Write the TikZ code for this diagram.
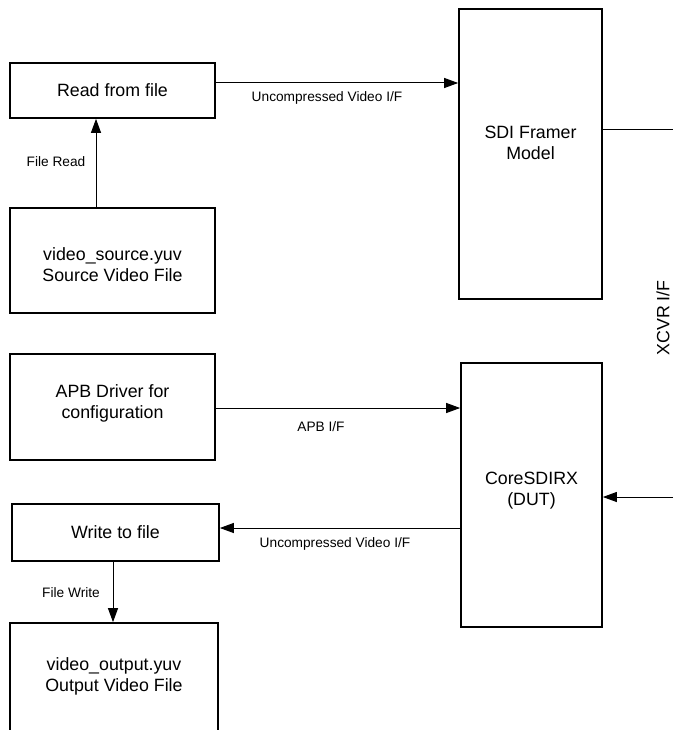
\documentclass[tikz,border=0pt]{standalone}
\usepackage{fontspec}
\setmainfont{Liberation Sans}
\usetikzlibrary{arrows.meta}
\tikzset{
  blk/.style={draw, line width=1.7pt, inner sep=0pt, align=center,
    font=\fontsize{17.8}{21}\selectfont},
  txt/.style={inner sep=0pt, align=center, font=\fontsize{17.8}{21}\selectfont},
  lbl/.style={inner sep=0pt, font=\fontsize{13.7}{16}\selectfont},
  conn/.style={line width=1pt},
  arr/.style={conn, -{Triangle[length=14pt,width=10pt]}}
}
\begin{document}
\begin{tikzpicture}[x=1pt,y=-1pt]
\useasboundingbox (0,0) rectangle (673,730);
\clip (0,0) rectangle (673,730);
\node[blk, minimum width=205pt, minimum height=55pt] (read) at (112.5,90.5) {Read from file};
\node[blk, minimum width=205pt, minimum height=105pt, text depth=0pt] (src) at (112.5,260.5) {};
\node[txt] (srct) at (112.5,265) {video\_source.yuv\\Source Video File};
\node[blk, minimum width=143pt, minimum height=290pt] (sdi) at (530.5,154) {};
\node[txt] (sdit) at (530.5,142.5) {SDI Framer\\Model};
\node[blk, minimum width=205pt, minimum height=106pt] (apb) at (112.5,407) {};
\node[txt] (apbt) at (112.5,403) {APB Driver for\\configuration};
\node[blk, minimum width=141pt, minimum height=264pt] (core) at (531.5,495) {};
\node[txt] (coret) at (531.5,491) {CoreSDIRX\\(DUT)};
\node[blk, minimum width=207pt, minimum height=57pt] (write) at (115.5,532.5) {Write to file};
\node[blk, minimum width=208pt, minimum height=160pt] (out) at (114,703) {};
\node[txt] (outt) at (114,676) {video\_output.yuv\\Output Video File};
\coordinate (xr1) at (673,130);
\coordinate (xr2) at (673,497);
% connectors
\draw[arr] ([yshift=7.5pt]read.east) -- ([yshift=7.5pt]read.east -| sdi.west);
\draw[arr] ([xshift=-16.5pt]src.north) -- ([xshift=-16.5pt]read.south);
\draw[arr] (apb.east |- 0,408) -- (core.west |- 0,408);
\draw[arr] (core.west |- 0,528) -- (write.east |- 0,528);
\draw[arr] ([xshift=-2.5pt]write.south) -- ([xshift=-2.5pt]write.south |- out.north);
\draw[conn] (sdi.east |- xr1) -- (xr1);
\draw[arr] (xr2) -- (xr2 -| core.east);
% labels
\node[lbl] (l1) at (56,162) {File Read};
\node[lbl] (l2) at (327,98) {Uncompressed Video I/F};
\node[lbl] (l3) at (321,427) {APB I/F};
\node[lbl] (l4) at (335,544) {Uncompressed Video I/F};
\node[lbl] (l5) at (71,593) {File Write};
\node[txt, rotate=90] (l6) at (663,318) {XCVR I/F};
\end{tikzpicture}
\end{document}
